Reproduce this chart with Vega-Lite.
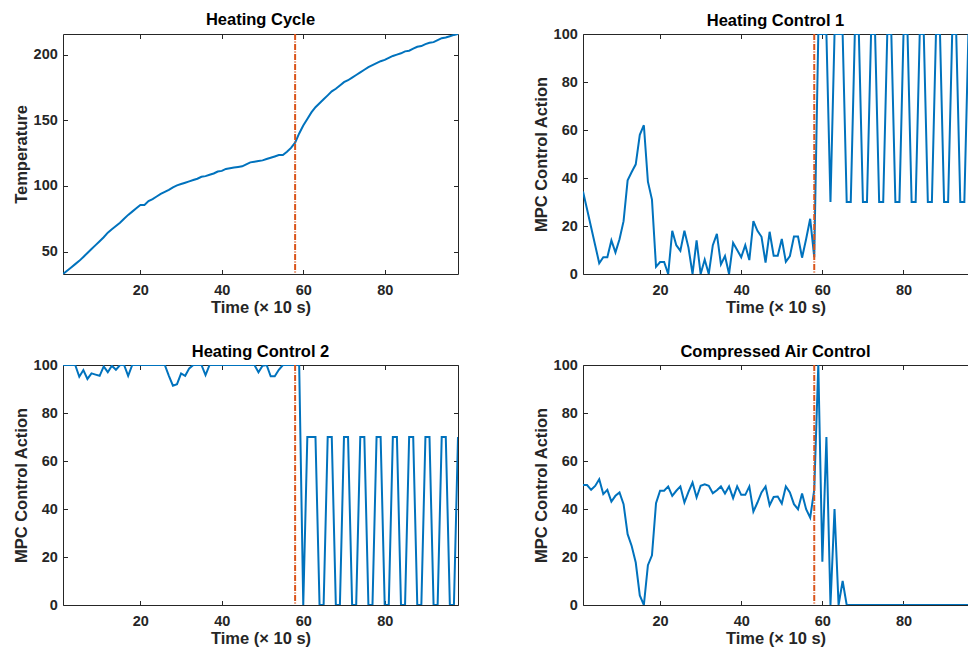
{
  "$schema": "https://vega.github.io/schema/vega-lite/v6.json",
  "padding": {"left": 13, "top": 12, "right": 0, "bottom": 0},
  "background": "white",
  "datasets": {
    "temp": [
      {"t":1,"v":33},{"t":2,"v":35.5},{"t":3,"v":38},{"t":4,"v":40.5},{"t":5,"v":43},{"t":6,"v":46},{"t":7,"v":49},{"t":8,"v":52},{"t":9,"v":55},{"t":10,"v":58},
      {"t":11,"v":61},{"t":12,"v":64.5},{"t":13,"v":67},{"t":14,"v":69.5},{"t":15,"v":72},{"t":16,"v":75},{"t":17,"v":78},{"t":18,"v":80.5},{"t":19,"v":83},{"t":20,"v":85.5},
      {"t":21,"v":85.5},{"t":22,"v":88.5},{"t":23,"v":90},{"t":24,"v":92},{"t":25,"v":94},{"t":26,"v":95.5},{"t":27,"v":97},{"t":28,"v":99},{"t":29,"v":100.5},{"t":30,"v":101.5},
      {"t":31,"v":102.5},{"t":32,"v":103.5},{"t":33,"v":104.5},{"t":34,"v":105.5},{"t":35,"v":107},{"t":36,"v":107.5},{"t":37,"v":108.5},{"t":38,"v":109.5},{"t":39,"v":111},{"t":40,"v":111.5},
      {"t":41,"v":113},{"t":42,"v":113.5},{"t":43,"v":114},{"t":44,"v":114.5},{"t":45,"v":115},{"t":46,"v":116.5},{"t":47,"v":118},{"t":48,"v":118.5},{"t":49,"v":119},{"t":50,"v":119.5},
      {"t":51,"v":120.5},{"t":52,"v":121.5},{"t":53,"v":122.5},{"t":54,"v":123.5},{"t":55,"v":123.5},{"t":56,"v":126},{"t":57,"v":129},{"t":58,"v":133},{"t":59,"v":140},{"t":60,"v":146},
      {"t":61,"v":151},{"t":62,"v":156},{"t":63,"v":160},{"t":64,"v":163},{"t":65,"v":166},{"t":66,"v":169},{"t":67,"v":172},{"t":68,"v":174},{"t":69,"v":176.5},{"t":70,"v":179},
      {"t":71,"v":180.5},{"t":72,"v":182.5},{"t":73,"v":184.5},{"t":74,"v":186.5},{"t":75,"v":188.5},{"t":76,"v":190.5},{"t":77,"v":192},{"t":78,"v":193.5},{"t":79,"v":195},{"t":80,"v":196},
      {"t":81,"v":197.5},{"t":82,"v":199},{"t":83,"v":200},{"t":84,"v":201},{"t":85,"v":202.5},{"t":86,"v":203},{"t":87,"v":204.5},{"t":88,"v":206},{"t":89,"v":206.5},{"t":90,"v":208},
      {"t":91,"v":209},{"t":92,"v":209.5},{"t":93,"v":211},{"t":94,"v":212.5},{"t":95,"v":213},{"t":96,"v":214},{"t":97,"v":215},{"t":98,"v":215.7}
    ],
    "hc1": [
      {"t":1,"v":34.4},{"t":2,"v":27},{"t":3,"v":19.5},{"t":4,"v":12},{"t":5,"v":4.5},{"t":6,"v":7},{"t":7,"v":7},{"t":8,"v":14},{"t":9,"v":9},{"t":10,"v":14.5},
      {"t":11,"v":22},{"t":12,"v":39},{"t":13,"v":42.5},{"t":14,"v":45.7},{"t":15,"v":58},{"t":16,"v":62},{"t":17,"v":38.5},{"t":18,"v":31},{"t":19,"v":3},{"t":20,"v":5},
      {"t":21,"v":5},{"t":22,"v":0},{"t":23,"v":18},{"t":24,"v":12},{"t":25,"v":9.7},{"t":26,"v":18},{"t":27,"v":11},{"t":28,"v":0},{"t":29,"v":14},{"t":30,"v":0},
      {"t":31,"v":6},{"t":32,"v":0},{"t":33,"v":12},{"t":34,"v":16.7},{"t":35,"v":4},{"t":36,"v":7.5},{"t":37,"v":0},{"t":38,"v":13},{"t":39,"v":10},{"t":40,"v":7},
      {"t":41,"v":12},{"t":42,"v":5.8},{"t":43,"v":22},{"t":44,"v":18},{"t":45,"v":15.5},{"t":46,"v":4.7},{"t":47,"v":17.6},{"t":48,"v":7.6},{"t":49,"v":7.6},{"t":50,"v":14.6},
      {"t":51,"v":5.1},{"t":52,"v":7.5},{"t":53,"v":15.6},{"t":54,"v":15.6},{"t":55,"v":6.8},{"t":56,"v":14.6},{"t":57,"v":23},{"t":58,"v":7},{"t":59,"v":100},{"t":60,"v":100},
      {"t":61,"v":100},{"t":62,"v":30},{"t":63,"v":100},{"t":64,"v":100},{"t":65,"v":100},{"t":66,"v":30},{"t":67,"v":30},{"t":68,"v":100},{"t":69,"v":100},{"t":70,"v":30},
      {"t":71,"v":30},{"t":72,"v":100},{"t":73,"v":100},{"t":74,"v":30},{"t":75,"v":30},{"t":76,"v":100},{"t":77,"v":100},{"t":78,"v":30},{"t":79,"v":30},{"t":80,"v":100},
      {"t":81,"v":100},{"t":82,"v":30},{"t":83,"v":30},{"t":84,"v":100},{"t":85,"v":100},{"t":86,"v":30},{"t":87,"v":30},{"t":88,"v":100},{"t":89,"v":100},{"t":90,"v":30},
      {"t":91,"v":30},{"t":92,"v":100},{"t":93,"v":100},{"t":94,"v":30},{"t":95,"v":30},{"t":96,"v":100},{"t":97,"v":100},{"t":98,"v":30}
    ],
    "hc2": [
      {"t":1,"v":100},{"t":2,"v":100},{"t":3,"v":100},{"t":4,"v":100},{"t":5,"v":95.1},{"t":6,"v":97.9},{"t":7,"v":94.2},{"t":8,"v":96.5},{"t":9,"v":96},{"t":10,"v":95.5},
      {"t":11,"v":99.4},{"t":12,"v":97},{"t":13,"v":99.7},{"t":14,"v":98},{"t":15,"v":100},{"t":16,"v":100},{"t":17,"v":95.5},{"t":18,"v":100},{"t":19,"v":100},{"t":20,"v":100},
      {"t":21,"v":100},{"t":22,"v":100},{"t":23,"v":100},{"t":24,"v":100},{"t":25,"v":100},{"t":26,"v":100},{"t":27,"v":95.5},{"t":28,"v":91.4},{"t":29,"v":92},{"t":30,"v":96.5},
      {"t":31,"v":95.5},{"t":32,"v":98.6},{"t":33,"v":100},{"t":34,"v":100},{"t":35,"v":100},{"t":36,"v":95.8},{"t":37,"v":100},{"t":38,"v":100},{"t":39,"v":100},{"t":40,"v":100},
      {"t":41,"v":100},{"t":42,"v":100},{"t":43,"v":100},{"t":44,"v":100},{"t":45,"v":100},{"t":46,"v":100},{"t":47,"v":100},{"t":48,"v":100},{"t":49,"v":97},{"t":50,"v":99.7},
      {"t":51,"v":100},{"t":52,"v":95.3},{"t":53,"v":95.3},{"t":54,"v":98},{"t":55,"v":100},{"t":56,"v":100},{"t":57,"v":100},{"t":58,"v":100},{"t":59,"v":100},{"t":60,"v":0},
      {"t":61,"v":70},{"t":62,"v":70},{"t":63,"v":70},{"t":64,"v":0},{"t":65,"v":0},{"t":66,"v":70},{"t":67,"v":70},{"t":68,"v":0},{"t":69,"v":0},{"t":70,"v":70},
      {"t":71,"v":70},{"t":72,"v":0},{"t":73,"v":0},{"t":74,"v":70},{"t":75,"v":70},{"t":76,"v":0},{"t":77,"v":0},{"t":78,"v":70},{"t":79,"v":70},{"t":80,"v":0},
      {"t":81,"v":0},{"t":82,"v":70},{"t":83,"v":70},{"t":84,"v":0},{"t":85,"v":0},{"t":86,"v":70},{"t":87,"v":70},{"t":88,"v":0},{"t":89,"v":0},{"t":90,"v":70},
      {"t":91,"v":70},{"t":92,"v":0},{"t":93,"v":0},{"t":94,"v":70},{"t":95,"v":70},{"t":96,"v":0},{"t":97,"v":0},{"t":98,"v":70}
    ],
    "air": [
      {"t":1,"v":50},{"t":2,"v":50},{"t":3,"v":48},{"t":4,"v":49.6},{"t":5,"v":52.4},{"t":6,"v":46.2},{"t":7,"v":48},{"t":8,"v":43.1},{"t":9,"v":45.5},{"t":10,"v":46.9},
      {"t":11,"v":42},{"t":12,"v":29.5},{"t":13,"v":24.6},{"t":14,"v":17.7},{"t":15,"v":4},{"t":16,"v":0},{"t":17,"v":16.6},{"t":18,"v":20.7},{"t":19,"v":42.4},{"t":20,"v":47.6},
      {"t":21,"v":47.6},{"t":22,"v":49.4},{"t":23,"v":45.5},{"t":24,"v":47.6},{"t":25,"v":49.4},{"t":26,"v":42.7},{"t":27,"v":47.1},{"t":28,"v":51},{"t":29,"v":44.8},{"t":30,"v":49.7},
      {"t":31,"v":50.3},{"t":32,"v":49.7},{"t":33,"v":46.6},{"t":34,"v":47.8},{"t":35,"v":49.4},{"t":36,"v":46.5},{"t":37,"v":49.4},{"t":38,"v":44.5},{"t":39,"v":49.4},{"t":40,"v":45.9},
      {"t":41,"v":45.9},{"t":42,"v":49.4},{"t":43,"v":38.9},{"t":44,"v":42.7},{"t":45,"v":46.9},{"t":46,"v":49.4},{"t":47,"v":41.6},{"t":48,"v":45},{"t":49,"v":45.2},{"t":50,"v":42.3},
      {"t":51,"v":49.4},{"t":52,"v":46.9},{"t":53,"v":42},{"t":54,"v":39.9},{"t":55,"v":46.5},{"t":56,"v":39.9},{"t":57,"v":36.4},{"t":58,"v":48},{"t":59,"v":100},{"t":60,"v":18},
      {"t":61,"v":70},{"t":62,"v":0},{"t":63,"v":40},{"t":64,"v":0},{"t":65,"v":10},{"t":66,"v":0},{"t":67,"v":0},{"t":68,"v":0},{"t":69,"v":0},{"t":70,"v":0},
      {"t":71,"v":0},{"t":72,"v":0},{"t":73,"v":0},{"t":74,"v":0},{"t":75,"v":0},{"t":76,"v":0},{"t":77,"v":0},{"t":78,"v":0},{"t":79,"v":0},{"t":80,"v":0},
      {"t":81,"v":0},{"t":82,"v":0},{"t":83,"v":0},{"t":84,"v":0},{"t":85,"v":0},{"t":86,"v":0},{"t":87,"v":0},{"t":88,"v":0},{"t":89,"v":0},{"t":90,"v":0},
      {"t":91,"v":0},{"t":92,"v":0},{"t":93,"v":0},{"t":94,"v":0},{"t":95,"v":0},{"t":96,"v":0},{"t":97,"v":0},{"t":98,"v":0}
    ],
    "switch": [{"x": 58}]
  },
  "vconcat": [
    {
      "hconcat": [
        {
          "title": {"text": "Heating Cycle", "offset": 4.5},
          "width": 395, "height": 240,
          "layer": [
            {"data": {"name": "temp"}, "mark": {"type": "line", "color": "#0072BD", "strokeWidth": 2, "clip": true},
             "encoding": {
               "x": {"field": "t", "type": "quantitative", "scale": {"domain": [1, 98], "nice": false, "zero": false}, "axis": {"orient": "bottom", "values": [20, 40, 60, 80], "title": "Time (× 10 s)"}},
               "y": {"field": "v", "type": "quantitative", "scale": {"domain": [33, 215.7], "nice": false, "zero": false}, "axis": {"orient": "left", "values": [50, 100, 150, 200], "title": "Temperature"}}}},
            {"data": {"name": "temp"}, "mark": {"type": "line", "opacity": 0, "clip": true},
             "encoding": {
               "x": {"field": "t", "type": "quantitative", "scale": {"domain": [1, 98], "nice": false, "zero": false}, "axis": {"orient": "top", "values": [20, 40, 60, 80], "labels": false, "title": null}},
               "y": {"field": "v", "type": "quantitative", "scale": {"domain": [33, 215.7], "nice": false, "zero": false}, "axis": {"orient": "right", "values": [50, 100, 150, 200], "labels": false, "title": null}}}},
            {"data": {"name": "switch"}, "mark": {"type": "rule", "color": "#D95319", "strokeWidth": 2, "strokeDash": [6, 1.5, 1, 1.5]},
             "encoding": {"x": {"field": "x", "type": "quantitative", "axis": null}}}
          ]
        },
        {
          "title": {"text": "Heating Control 1", "offset": -3.5},
          "width": 385, "height": 240,
          "layer": [
            {"data": {"name": "hc1"}, "mark": {"type": "line", "color": "#0072BD", "strokeWidth": 2, "clip": true},
             "encoding": {
               "x": {"field": "t", "type": "quantitative", "scale": {"domain": [1, 95.9], "nice": false, "zero": false}, "axis": {"orient": "bottom", "values": [20, 40, 60, 80], "title": "Time (× 10 s)"}},
               "y": {"field": "v", "type": "quantitative", "scale": {"domain": [0, 100], "nice": false}, "axis": {"orient": "left", "values": [0, 20, 40, 60, 80, 100], "title": "MPC Control Action"}}}},
            {"data": {"name": "hc1"}, "mark": {"type": "line", "opacity": 0, "clip": true},
             "encoding": {
               "x": {"field": "t", "type": "quantitative", "scale": {"domain": [1, 95.9], "nice": false, "zero": false}, "axis": {"orient": "top", "values": [20, 40, 60, 80], "labels": false, "title": null}},
               "y": {"field": "v", "type": "quantitative", "scale": {"domain": [0, 100], "nice": false}, "axis": {"orient": "left", "values": [0, 20, 40, 60, 80, 100], "title": "MPC Control Action"}}}},
            {"data": {"name": "switch"}, "mark": {"type": "rule", "color": "#D95319", "strokeWidth": 2, "strokeDash": [6, 1.5, 1, 1.5]},
             "encoding": {"x": {"field": "x", "type": "quantitative", "axis": null}}}
          ]
        }
      ],
      "resolve": {"scale": {"x": "independent", "y": "independent"}, "axis": {"x": "independent", "y": "independent"}}
    },
    {
      "hconcat": [
        {
          "title": {"text": "Heating Control 2", "offset": -3.5},
          "width": 395, "height": 240,
          "layer": [
            {"data": {"name": "hc2"}, "mark": {"type": "line", "color": "#0072BD", "strokeWidth": 2, "clip": true},
             "encoding": {
               "x": {"field": "t", "type": "quantitative", "scale": {"domain": [1, 98], "nice": false, "zero": false}, "axis": {"orient": "bottom", "values": [20, 40, 60, 80], "title": "Time (× 10 s)"}},
               "y": {"field": "v", "type": "quantitative", "scale": {"domain": [0, 100], "nice": false}, "axis": {"orient": "left", "values": [0, 20, 40, 60, 80, 100], "title": "MPC Control Action"}}}},
            {"data": {"name": "hc2"}, "mark": {"type": "line", "opacity": 0, "clip": true},
             "encoding": {
               "x": {"field": "t", "type": "quantitative", "scale": {"domain": [1, 98], "nice": false, "zero": false}, "axis": {"orient": "top", "values": [20, 40, 60, 80], "labels": false, "title": null}},
               "y": {"field": "v", "type": "quantitative", "scale": {"domain": [0, 100], "nice": false}, "axis": {"orient": "right", "values": [0, 20, 40, 60, 80, 100], "labels": false, "title": null}}}},
            {"data": {"name": "switch"}, "mark": {"type": "rule", "color": "#D95319", "strokeWidth": 2, "strokeDash": [6, 1.5, 1, 1.5]},
             "encoding": {"x": {"field": "x", "type": "quantitative", "axis": null}}}
          ]
        },
        {
          "title": {"text": "Compressed Air Control", "offset": -3.5},
          "width": 385, "height": 240,
          "layer": [
            {"data": {"name": "air"}, "mark": {"type": "line", "color": "#0072BD", "strokeWidth": 2, "clip": true},
             "encoding": {
               "x": {"field": "t", "type": "quantitative", "scale": {"domain": [1, 95.9], "nice": false, "zero": false}, "axis": {"orient": "bottom", "values": [20, 40, 60, 80], "title": "Time (× 10 s)"}},
               "y": {"field": "v", "type": "quantitative", "scale": {"domain": [0, 100], "nice": false}, "axis": {"orient": "left", "values": [0, 20, 40, 60, 80, 100], "title": "MPC Control Action"}}}},
            {"data": {"name": "air"}, "mark": {"type": "line", "opacity": 0, "clip": true},
             "encoding": {
               "x": {"field": "t", "type": "quantitative", "scale": {"domain": [1, 95.9], "nice": false, "zero": false}, "axis": {"orient": "top", "values": [20, 40, 60, 80], "labels": false, "title": null}},
               "y": {"field": "v", "type": "quantitative", "scale": {"domain": [0, 100], "nice": false}, "axis": {"orient": "left", "values": [0, 20, 40, 60, 80, 100], "title": "MPC Control Action"}}}},
            {"data": {"name": "switch"}, "mark": {"type": "rule", "color": "#D95319", "strokeWidth": 2, "strokeDash": [6, 1.5, 1, 1.5]},
             "encoding": {"x": {"field": "x", "type": "quantitative", "axis": null}}}
          ]
        }
      ],
      "resolve": {"scale": {"x": "independent", "y": "independent"}, "axis": {"x": "independent", "y": "independent"}}
    }
  ],
  "spacing": 28,
  "resolve": {"scale": {"x": "independent", "y": "independent"}, "axis": {"x": "independent", "y": "independent"}},
  "config": {
    "concat": {"spacing": 74},
    "view": {"stroke": null},
    "font": "Liberation Sans",
    "axis": {
      "grid": false,
      "domainColor": "#262626", "domainWidth": 1,
      "tickColor": "#262626", "tickWidth": 1, "tickSize": -4.5,
      "labelFont": "Liberation Sans", "labelFontSize": 14.5, "labelFontWeight": "bold", "labelColor": "#262626",
      "titleFont": "Liberation Sans", "titleFontSize": 16.5, "titleFontWeight": "bold", "titleColor": "#262626",
      "minExtent": 0
    },
    "axisBottom": {"labelPadding": 14.2, "titlePadding": 2},
    "axisLeft": {"labelPadding": 10.2, "titlePadding": 3.8},
    "title": {"font": "Liberation Sans", "fontSize": 16.5, "fontWeight": "bold", "color": "#000000"}
  }
}
